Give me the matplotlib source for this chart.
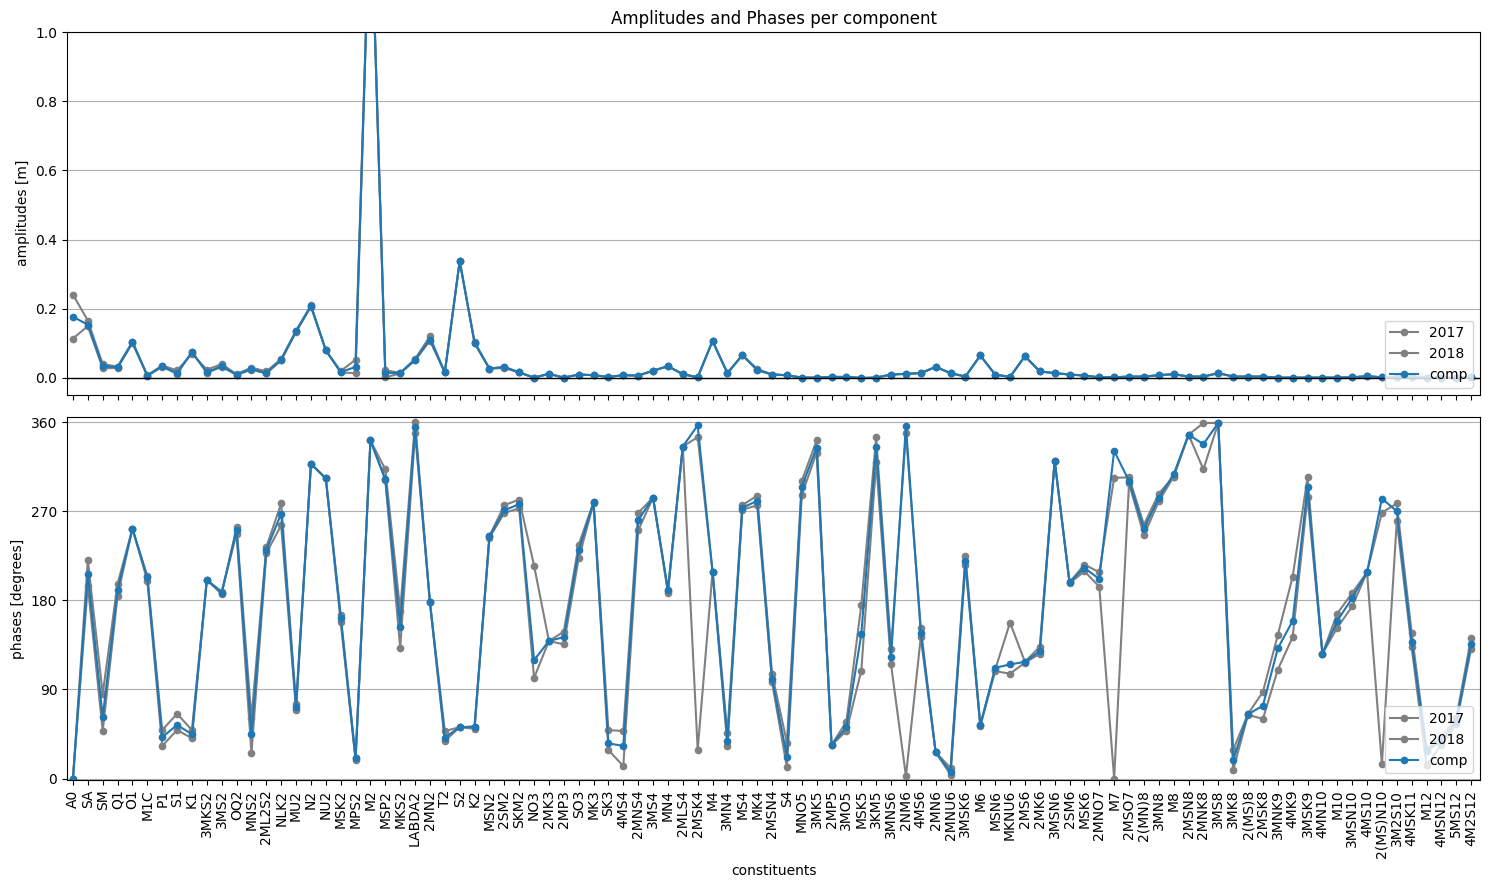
import matplotlib
matplotlib.use('Agg')
import matplotlib.pyplot as plt

# tidal constituents along the x axis
constituents = ['A0', 'SA', 'SM', 'Q1', 'O1', 'M1C', 'P1', 'S1', 'K1', '3MKS2', '3MS2', 'OQ2', 'MNS2',
                '2ML2S2', 'NLK2', 'MU2', 'N2', 'NU2', 'MSK2', 'MPS2', 'M2', 'MSP2', 'MKS2', 'LABDA2',
                '2MN2', 'T2', 'S2', 'K2', 'MSN2', '2SM2', 'SKM2', 'NO3', '2MK3', '2MP3', 'SO3', 'MK3',
                'SK3', '4MS4', '2MNS4', '3MS4', 'MN4', '2MLS4', '2MSK4', 'M4', '3MN4', 'MS4', 'MK4',
                '2MSN4', 'S4', 'MNO5', '3MK5', '2MP5', '3MO5', 'MSK5', '3KM5', '3MNS6', '2NM6', '4MS6',
                '2MN6', '2MNU6', '3MSK6', 'M6', 'MSN6', 'MKNU6', '2MS6', '2MK6', '3MSN6', '2SM6', 'MSK6',
                '2MNO7', 'M7', '2MSO7', '2(MN)8', '3MN8', 'M8', '2MSN8', '2MNK8', '3MS8', '3MK8',
                '2(MS)8', '2MSK8', '3MNK9', '4MK9', '3MSK9', '4MN10', 'M10', '3MSN10', '4MS10',
                '2(MS)N10', '3M2S10', '4MSK11', 'M12', '4MSN12', '5MS12', '4M2S12']

amp_comp = [0.177, 0.154, 0.034, 0.031, 0.103, 0.007, 0.034, 0.014, 0.074, 0.017, 0.034, 0.010, 0.026,
            0.014, 0.053, 0.135, 0.208, 0.080, 0.017, 0.032, 1.42, 0.015, 0.014, 0.053,
            0.111, 0.016, 0.338, 0.102, 0.027, 0.031, 0.016, 0.001, 0.012, 0.001, 0.010, 0.008,
            0.003, 0.008, 0.007, 0.021, 0.034, 0.011, 0.002, 0.107, 0.014, 0.066, 0.024,
            0.010, 0.008, 0.001, 0.001, 0.003, 0.003, 0.000, 0.001, 0.010, 0.012, 0.014,
            0.032, 0.014, 0.004, 0.065, 0.010, 0.003, 0.063, 0.019, 0.014, 0.010, 0.007,
            0.002, 0.002, 0.004, 0.004, 0.008, 0.011, 0.004, 0.004, 0.014, 0.004,
            0.004, 0.004, 0.001, 0.001, 0.001, 0.001, 0.001, 0.002, 0.005,
            0.002, 0.002, 0.002, 0.001, 0.001, 0.001, 0.002]
amp_2017 = [0.241, 0.166, 0.040, 0.033, 0.105, 0.008, 0.036, 0.022, 0.070, 0.024, 0.040, 0.011, 0.030,
            0.019, 0.055, 0.137, 0.210, 0.080, 0.020, 0.053, 1.42, 0.022, 0.015, 0.055,
            0.120, 0.016, 0.338, 0.104, 0.027, 0.033, 0.016, 0.001, 0.012, 0.001, 0.010, 0.008,
            0.003, 0.008, 0.007, 0.021, 0.034, 0.011, 0.002, 0.107, 0.014, 0.066, 0.026,
            0.010, 0.008, 0.001, 0.001, 0.003, 0.003, 0.000, 0.001, 0.010, 0.012, 0.014,
            0.032, 0.014, 0.004, 0.065, 0.010, 0.003, 0.063, 0.019, 0.014, 0.010, 0.007,
            0.002, 0.002, 0.004, 0.004, 0.008, 0.011, 0.004, 0.004, 0.014, 0.004,
            0.004, 0.004, 0.001, 0.001, 0.001, 0.001, 0.001, 0.002, 0.005,
            0.002, 0.002, 0.002, 0.001, 0.001, 0.001, 0.002]
amp_2018 = [0.114, 0.150, 0.028, 0.029, 0.101, 0.006, 0.032, 0.012, 0.076, 0.015, 0.032, 0.009, 0.024,
            0.013, 0.051, 0.133, 0.206, 0.080, 0.016, 0.014, 1.42, 0.002, 0.013, 0.051,
            0.108, 0.016, 0.338, 0.100, 0.027, 0.029, 0.016, 0.001, 0.012, 0.001, 0.010, 0.008,
            0.003, 0.008, 0.007, 0.021, 0.034, 0.011, 0.002, 0.107, 0.014, 0.066, 0.022,
            0.010, 0.008, 0.001, 0.001, 0.003, 0.003, 0.000, 0.001, 0.010, 0.012, 0.014,
            0.032, 0.014, 0.004, 0.065, 0.010, 0.003, 0.063, 0.019, 0.014, 0.010, 0.007,
            0.002, 0.002, 0.004, 0.004, 0.008, 0.011, 0.004, 0.004, 0.014, 0.004,
            0.004, 0.004, 0.001, 0.001, 0.001, 0.001, 0.001, 0.002, 0.005,
            0.002, 0.002, 0.002, 0.001, 0.001, 0.001, 0.002]

pha_comp = [0, 207, 62, 190.5, 252.5, 203.4, 41.7, 54.2, 44.7, 200.7, 188, 251.5, 44.7, 231, 267.8,
            72.2, 318, 303.4, 162.7,
            20.3, 341.7, 302.7, 153.6, 355, 178, 41.4, 51.9, 52.5, 245, 271.2, 277.3, 119.7, 139, 143,
            230.5, 279.3, 35.6, 32.9,
            261, 284, 190.8, 335.6, 357, 209, 38.3, 273.6, 280.7, 100.7, 22, 295, 334.6, 33.9, 52,
            145.8, 335.6, 123, 356.6,
            147.5, 26.4, 6.8, 220.3, 53.6, 111.9, 115.3, 118, 128.8, 321.4, 198.3, 212.9, 201.7,
            331.2, 300.7, 252.5, 283.7, 307.5, 347.5, 338,
            359.5, 18.6, 65, 73.6, 131.5, 159.3, 294.2, 126.1, 159.3, 182.4, 208.5, 283, 270.2,
            138.3, 28, 38, 57.6, 136.3]
pha_2017 = [0, 221, 85.4, 197, 252.5, 204.4, 49, 65.4, 49, 200.7, 186.4, 254, 61, 234, 278,
            75.3, 318, 303.4, 165.4,
            21, 341.7, 312.5, 169.5, 360, 178, 48, 51.9, 52.5, 245, 276.3, 282, 215.3, 139, 148.5,
            236.3, 279.3, 49, 48,
            268.5, 284, 188, 335.6, 345, 209, 45.8, 276.3, 286, 105.8, 36.3, 301, 341.7, 33.9, 57.6,
            175.3, 345, 130.5, 349,
            151.9, 26.4, 10.8, 224.7, 54.5, 110, 157.6, 118, 133.2, 321.4, 198.3, 216.3, 208.5,
            304, 304.4, 256.6, 288, 305, 347.5, 359.3,
            359.5, 28.8, 65.4, 87.5, 145, 204, 304.4, 126.1, 166.8, 187.5, 208.5, 268.8, 278,
            147.5, 30, 42, 61, 142.4]
pha_2018 = [0, 195, 48, 185, 252.5, 200, 33, 49, 40.7, 200.7, 189, 247.5, 25.4, 227.8, 256,
            69.5, 318, 303.4, 158.3,
            18.6, 341.7, 301.7, 132.2, 349, 178, 38, 51.9, 50.2, 243.4, 268.5, 273, 101.7, 139, 135.6,
            222.7, 278, 28.8, 12.5,
            250.8, 284, 190, 335.6, 28.8, 209, 33.2, 271.9, 276, 97.3, 11.2, 286.8, 329.5, 33.9, 48,
            109, 319.7, 115.3, 2.4,
            143, 26.4, 4, 216.3, 53, 108.5, 106, 117, 126.1, 321.4, 197.3, 209.5, 193.9,
            0, 298.3, 245.8, 280.3, 305, 347.5, 312.5,
            359.5, 8.5, 64.4, 60.3, 110, 143, 284.7, 126.1, 152.5, 173.9, 208.5, 14.6, 260.3,
            132.9, 14, 34, 55, 131.2]

x = list(range(len(constituents)))

fig, (ax1, ax2) = plt.subplots(2, 1, sharex=True, figsize=(14.89, 8.89))

ax1.plot(x, amp_2017, 'o-', color='gray', ms=4.5, label='2017')
ax1.plot(x, amp_2018, 'o-', color='gray', ms=4.5, label='2018')
ax1.plot(x, amp_comp, 'o-', color='tab:blue', ms=4.5, label='comp')
ax1.axhline(0, color='black', lw=1)
ax1.set_ylim(-0.048, 1.0)
ax1.set_ylabel('amplitudes [m]')
ax1.set_title('Amplitudes and Phases per component')
ax1.grid(axis='y')
ax1.legend(loc='lower right')

ax2.plot(x, pha_2017, 'o-', color='gray', ms=4.5, label='2017')
ax2.plot(x, pha_2018, 'o-', color='gray', ms=4.5, label='2018')
ax2.plot(x, pha_comp, 'o-', color='tab:blue', ms=4.5, label='comp')
ax2.set_ylim(-1.5, 365)
ax2.set_yticks([0, 90, 180, 270, 360])
ax2.set_ylabel('phases [degrees]')
ax2.grid(axis='y')
ax2.legend(loc='lower right')

ax2.set_xticks(x)
ax2.set_xticklabels(constituents, rotation=90)
ax2.set_xlim(-0.4, len(x) - 0.4)
ax2.set_xlabel('constituents')

fig.subplots_adjust(left=0.045, right=0.994, top=0.964, bottom=0.1226, hspace=0.063)
plt.savefig('out.png', dpi=100)
